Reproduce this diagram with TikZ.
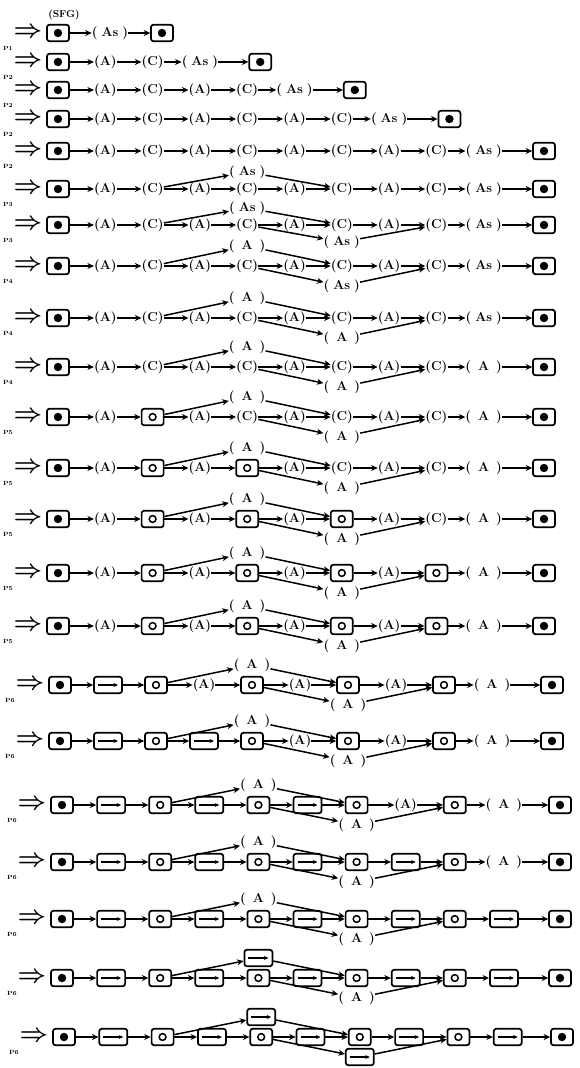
\documentclass[tikz,border=0pt]{standalone}
\usetikzlibrary{arrows.meta}

% one derivation line: name, y, x of first box, spacing, extra end gap, kinds between the end boxes, rule
\newcommand{\sfgrow}[7]{%
  \node[derive] (#1-arr) at ({#3-30},#2) {$\Rightarrow$};
  \node[rule] (#1-lbl) at ({#3-50},{#2+15}) {#7};
  \node (#1-0) at (#3,#2) [sb];
  \foreach \kind [count=\i, evaluate=\i as \j using int(\i-1)] in {#6} {
    \node (#1-\i) at ({#3+\i*#4},#2) [\kind];
    \draw[conn] (#1-\j) -- (#1-\i);
    \xdef\rowlen{\i}
  }
  \node (#1-fin) at ({#3+(\rowlen+1)*#4+#5},#2) [sb];
  \draw[conn] (#1-\rowlen) -- (#1-fin);
}
% parallel branches: name, offset, upper kind, lower kind (may be empty)
\newcommand{\sfbranch}[4]{%
  \path (#1-4.center) ++(0,-#2) node (#1-up) [#3];
  \draw[conn] (#1-2) -- (#1-up);
  \draw[conn] (#1-up) -- (#1-6);
  \ifx\relax#4\relax\else
    \path (#1-6.center) ++(0,#2) node (#1-dn) [#4];
    \draw[conn] (#1-4) -- (#1-dn);
    \draw[conn] (#1-dn) -- (#1-8);
  \fi
}

\begin{document}
\begin{tikzpicture}[x=1pt, y=-1pt,
  conn/.style={-{Stealth[length=6.5pt, width=6pt]}, line width=1.5pt},
  boxbase/.style={draw, line width=1.7pt, rounded corners=2.5pt, minimum width=22pt, minimum height=16.5pt, inner sep=0pt, node contents={}},
  sb/.style={boxbase, path picture={\fill (path picture bounding box.center) circle (4.2pt);}},
  ob/.style={boxbase, path picture={\draw[line width=1.5pt] (path picture bounding box.center) circle (3.4pt);}},
  db/.style={boxbase, minimum width=28pt, path picture={\draw[-{Stealth[length=4.5pt, width=4pt]}, line width=1.2pt] ([xshift=-10pt]path picture bounding box.center) -- ([xshift=10pt]path picture bounding box.center);}},
  tag/.style={font=\fontsize{13}{15}\selectfont\bfseries, inner sep=0pt},
  na/.style={tag, node contents={(A)}},
  nc/.style={tag, node contents={(C)}},
  ns/.style={tag, node contents={(\hspace{4pt}As\hspace{4pt})}},
  nw/.style={tag, node contents={(\hspace{7pt}A\hspace{7pt})}},
  derive/.style={font=\Huge\boldmath, inner sep=0pt},
  rule/.style={font=\fontsize{6}{7}\selectfont\bfseries, inner sep=0pt}
]
\useasboundingbox (0,0) rectangle (580,1068);
\node[font=\fontsize{10}{12}\selectfont\bfseries] (title) at (64,15) {(SFG)};

\sfgrow{r1}{33}{58}{52}{0}{ns}{P1}
\sfgrow{r2}{62}{58}{47.3}{13}{na,nc,ns}{P2}
\sfgrow{r3}{90}{58}{47.3}{13}{na,nc,na,nc,ns}{P2}
\sfgrow{r4}{119}{58}{47.3}{13}{na,nc,na,nc,na,nc,ns}{P2}
\sfgrow{r5}{151}{58}{47.3}{13}{na,nc,na,nc,na,nc,na,nc,ns}{P2}

\sfgrow{r6}{189}{58}{47.3}{13}{na,nc,na,nc,na,nc,na,nc,ns}{P3}
\sfbranch{r6}{17}{ns}{}
\sfgrow{r7}{225}{58}{47.3}{13}{na,nc,na,nc,na,nc,na,nc,ns}{P3}
\sfbranch{r7}{17}{ns}{ns}

\sfgrow{r8}{266}{58}{47.3}{13}{na,nc,na,nc,na,nc,na,nc,ns}{P4}
\sfbranch{r8}{20}{nw}{ns}
\sfgrow{r9}{318}{58}{47.3}{13}{na,nc,na,nc,na,nc,na,nc,ns}{P4}
\sfbranch{r9}{20}{nw}{nw}
\sfgrow{r10}{367}{58}{47.3}{13}{na,nc,na,nc,na,nc,na,nc,nw}{P4}
\sfbranch{r10}{20}{nw}{nw}

\sfgrow{r11}{417}{58}{47.3}{13}{na,ob,na,nc,na,nc,na,nc,nw}{P5}
\sfbranch{r11}{20}{nw}{nw}
\sfgrow{r12}{468}{58}{47.3}{13}{na,ob,na,ob,na,nc,na,nc,nw}{P5}
\sfbranch{r12}{20}{nw}{nw}
\sfgrow{r13}{519}{58}{47.3}{13}{na,ob,na,ob,na,ob,na,nc,nw}{P5}
\sfbranch{r13}{20}{nw}{nw}
\sfgrow{r14}{573}{58}{47.3}{13}{na,ob,na,ob,na,ob,na,ob,nw}{P5}
\sfbranch{r14}{20}{nw}{nw}
\sfgrow{r15}{626}{58}{47.3}{13}{na,ob,na,ob,na,ob,na,ob,nw}{P5}
\sfbranch{r15}{20}{nw}{nw}

\sfgrow{r16}{685}{60}{48}{12}{db,ob,na,ob,na,ob,na,ob,nw}{P6}
\sfbranch{r16}{20}{nw}{nw}
\sfgrow{r17}{741}{60}{48}{12}{db,ob,db,ob,na,ob,na,ob,nw}{P6}
\sfbranch{r17}{20}{nw}{nw}
\sfgrow{r18}{805}{62}{49.1}{7}{db,ob,db,ob,db,ob,na,ob,nw}{P6}
\sfbranch{r18}{20}{nw}{nw}
\sfgrow{r19}{862}{62}{49.1}{7}{db,ob,db,ob,db,ob,db,ob,nw}{P6}
\sfbranch{r19}{20}{nw}{nw}
\sfgrow{r20}{919}{62}{49.1}{7}{db,ob,db,ob,db,ob,db,ob,db}{P6}
\sfbranch{r20}{20}{nw}{nw}
\sfgrow{r21}{978}{62}{49.1}{7}{db,ob,db,ob,db,ob,db,ob,db}{P6}
\sfbranch{r21}{20}{db}{nw}
\sfgrow{r22}{1037}{64}{49.3}{5}{db,ob,db,ob,db,ob,db,ob,db}{P6}
\sfbranch{r22}{20}{db}{db}
\end{tikzpicture}
\end{document}
